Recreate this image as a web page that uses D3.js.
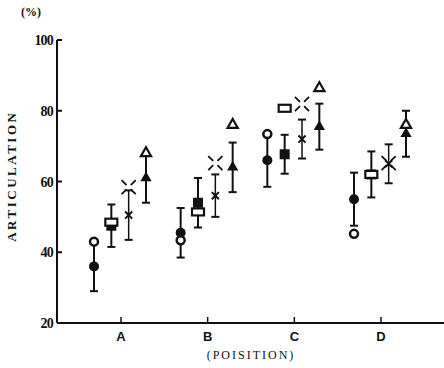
<!DOCTYPE html>
<html>
<head>
<meta charset="utf-8">
<script src="https://cdn.jsdelivr.net/npm/d3@7"></script>
<style>
  body { margin: 0; background: #fff; }
  text { font-family: "Liberation Serif", "DejaVu Serif", serif; fill: #111; }
  .tick-label { font-size: 14px; font-weight: bold; letter-spacing: -0.8px; }
  .pos-label { font-family: "Liberation Sans", Arial, sans-serif; font-size: 13px; font-weight: bold; }
</style>
</head>
<body>
<svg width="444" height="368"></svg>
<script>
const positions = ["A", "B", "C", "D"];
const seriesNames = ["circle", "square", "cross", "triangle"];
const yTicks = [20, 40, 60, 80, 100];

// mean and error of each series (filled marker with error bar)
const circleMean = [36, 45.5, 66, 55];
const circleErr = [7, 7, 7.5, 7.5];
const squareMean = [47.5, 54, 67.7, 62];
const squareErr = [6, 7, 5.5, 6.5];
const crossMean = [50.5, 56, 72, 65];
const crossErr = [7, 6, 5.5, 5.5];
const triangleMean = [61, 64, 75.5, 73.5];
const triangleErr = [7, 7, 6.5, 6.5];

// open markers (second condition, no error bar)
const circleOpen = [43, 43.4, 73.4, 45.2];
const squareOpen = [48.5, 51.4, 80.7, 62];
const crossOpen = [58.4, 65.2, 81.9, 65.2];
const triangleOpen = [68, 76, 86.4, 76];

const means = { circle: circleMean, square: squareMean, cross: crossMean, triangle: triangleMean };
const errs = { circle: circleErr, square: squareErr, cross: crossErr, triangle: triangleErr };
const opens = { circle: circleOpen, square: squareOpen, cross: crossOpen, triangle: triangleOpen };

const margin = { top: 40, right: 0, bottom: 45, left: 57 };
const width = 444 - margin.left - margin.right;
const height = 368 - margin.top - margin.bottom;

const svg = d3.select("svg")
  .append("g")
  .attr("transform", `translate(${margin.left},${margin.top})`);

const x = d3.scalePoint().domain(positions).range([64, 324]);
const dx = d3.scalePoint().domain(seriesNames).range([-27, 25]);
const y = d3.scaleLinear().domain([20, 100]).range([height, 0]);

// axes
svg.append("line").attr("x1", 0).attr("x2", 0).attr("y1", 0).attr("y2", height)
  .attr("stroke", "#111").attr("stroke-width", 2);
svg.append("line").attr("x1", 0).attr("x2", width).attr("y1", height).attr("y2", height)
  .attr("stroke", "#111").attr("stroke-width", 2);

svg.selectAll(".ytick").data(yTicks.filter(d => d > 20)).join("line")
  .attr("x1", 0).attr("x2", 5)
  .attr("y1", d => y(d)).attr("y2", d => y(d))
  .attr("stroke", "#111").attr("stroke-width", 2);

svg.selectAll(".ylab").data(yTicks).join("text")
  .attr("class", "tick-label")
  .attr("x", -4).attr("y", d => y(d) + 5)
  .attr("text-anchor", "end")
  .text(d => d);

svg.selectAll(".xtick").data(positions).join("line")
  .attr("x1", d => x(d)).attr("x2", d => x(d))
  .attr("y1", height).attr("y2", height - 6)
  .attr("stroke", "#111").attr("stroke-width", 1.5);

svg.selectAll(".xlab").data(positions).join("text")
  .attr("class", "pos-label")
  .attr("x", d => x(d)).attr("y", height + 18)
  .attr("text-anchor", "middle")
  .text(d => d);

svg.append("text")
  .attr("x", 194).attr("y", height + 36)
  .attr("text-anchor", "middle")
  .style("font-size", "12px")
  .style("letter-spacing", "2px")
  .text("(POISITION)");

svg.append("text")
  .attr("x", -36).attr("y", -24)
  .style("font-size", "12px").style("font-weight", "bold")
  .text("(%)");

svg.append("text")
  .attr("transform", "rotate(-90)")
  .attr("x", -(y(61.5))).attr("y", -41)
  .attr("text-anchor", "middle")
  .style("font-size", "13px").style("font-weight", "bold")
  .style("letter-spacing", "2.5px")
  .text("ARTICULATION");

// points
const points = [];
seriesNames.forEach(s => {
  positions.forEach((p, i) => {
    points.push({ s, p, cx: x(p) + dx(s), mean: means[s][i], err: errs[s][i], open: opens[s][i] });
  });
});

const g = svg.selectAll(".pt").data(points).join("g").attr("class", "pt");

// error bars
g.append("line")
  .attr("x1", d => d.cx).attr("x2", d => d.cx)
  .attr("y1", d => y(d.mean - d.err)).attr("y2", d => y(d.mean + d.err))
  .attr("stroke", "#111").attr("stroke-width", d => d.s === "cross" ? 1.5 : 2);
[-1, 1].forEach(k => {
  g.append("line")
    .attr("x1", d => d.cx - 4).attr("x2", d => d.cx + 4)
    .attr("y1", d => y(d.mean + k * d.err)).attr("y2", d => y(d.mean + k * d.err))
    .attr("stroke", "#111").attr("stroke-width", 2);
});

// filled markers
g.filter(d => d.s === "circle").append("circle")
  .attr("cx", d => d.cx).attr("cy", d => y(d.mean)).attr("r", 5).attr("fill", "#111");
g.filter(d => d.s === "square").append("rect")
  .attr("x", d => d.cx - 5).attr("y", d => y(d.mean) - 5)
  .attr("width", 10).attr("height", 10).attr("fill", "#111");
g.filter(d => d.s === "triangle").append("path")
  .attr("transform", d => `translate(${d.cx},${y(d.mean)})`)
  .attr("d", d3.symbol(d3.symbolTriangle, 55)).attr("fill", "#111");
g.filter(d => d.s === "cross").append("path")
  .attr("transform", d => `translate(${d.cx},${y(d.mean)}) rotate(45)`)
  .attr("d", "M-5,0H5M0,-5V5").attr("stroke", "#111").attr("stroke-width", 2);

// open markers
g.filter(d => d.s === "circle").append("circle")
  .attr("cx", d => d.cx).attr("cy", d => y(d.open)).attr("r", 4)
  .attr("fill", "#fff").attr("stroke", "#111").attr("stroke-width", 2.5);
g.filter(d => d.s === "square").append("rect")
  .attr("x", d => d.cx - 6).attr("y", d => y(d.open) - 3.5)
  .attr("width", 12).attr("height", 7)
  .attr("fill", "#fff").attr("stroke", "#111").attr("stroke-width", 2.2);
g.filter(d => d.s === "triangle").append("path")
  .attr("transform", d => `translate(${d.cx},${y(d.open)})`)
  .attr("d", d3.symbol(d3.symbolTriangle, 45))
  .attr("fill", "#fff").attr("stroke", "#111").attr("stroke-width", 2.2);
g.filter(d => d.s === "cross").append("path")
  .attr("transform", d => `translate(${d.cx},${y(d.open)}) rotate(45)`)
  .attr("d", "M-10,0H10M0,-10V10")
  .attr("fill", "none").attr("stroke", "#111").attr("stroke-width", 1.8)
  .attr("stroke-dasharray", "7,6");
</script>
</body>
</html>
